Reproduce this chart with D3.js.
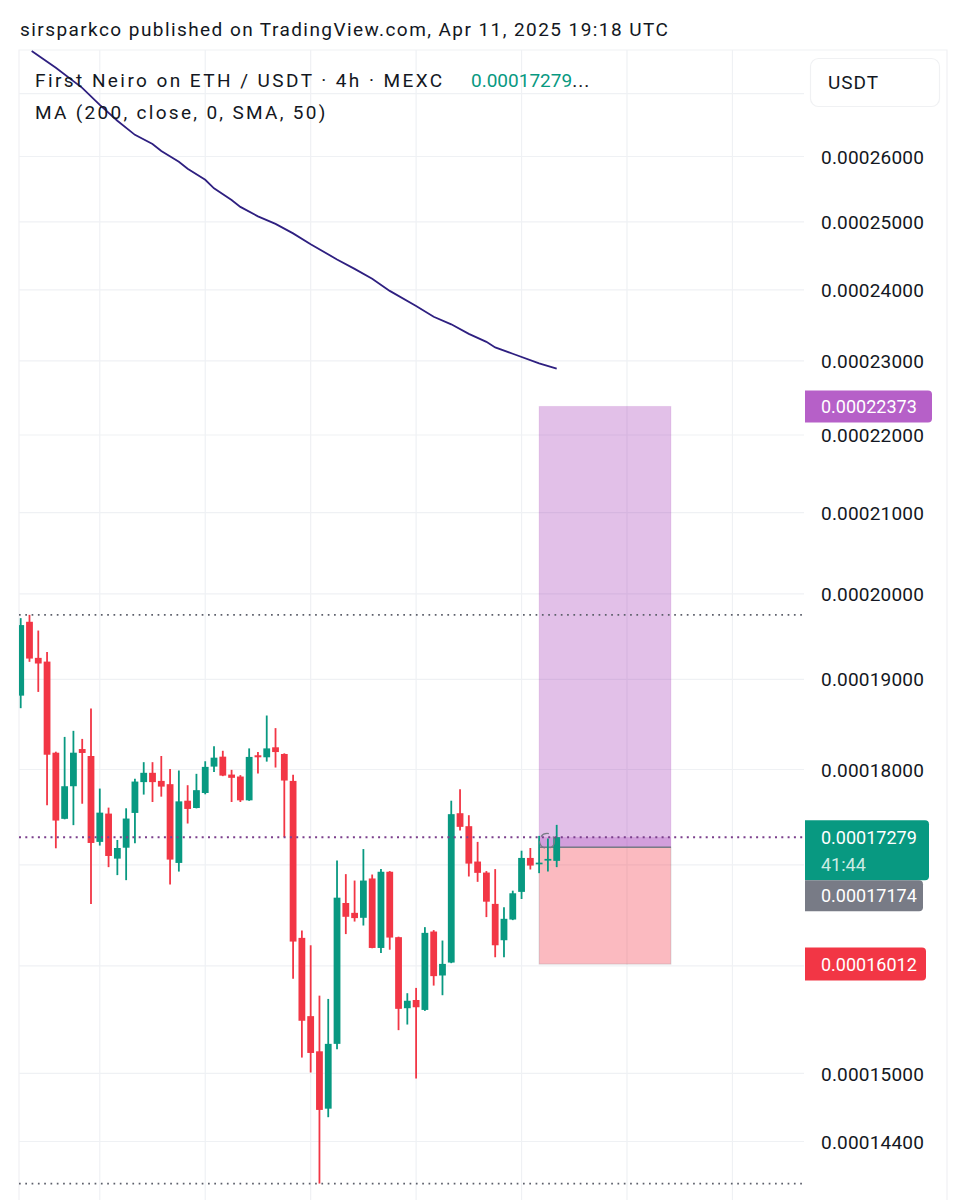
<!DOCTYPE html>
<html>
<head>
<meta charset="utf-8">
<script src="https://cdn.jsdelivr.net/npm/d3@7"></script>
<style>
  body { margin: 0; background: #fff; }
  text { font-family: Roboto, "Noto Sans", sans-serif; fill: #131722; }
</style>
</head>
<body>
<div id="chart"></div>
<script>
// Candles in bar order, prices in 1e-8 USDT
const opens = [18810,19662,19241,19198,18177,17470,17815,18217,18141,17230,17525,17058,17170,17532,17859,17959,17872,17837,17014,17661,17584,17743,18026,18134,17940,17919,17665,18149,18127,18236,18163,17872,16266,15520,15196,14682,15264,16610,16512,16463,16856,16168,16924,16273,15594,15671,15578,16328,15903,16027,17529,17393,17028,16916,16601,16243,16446,16721,17065,17001,17042,17035];
const highs = [19705,19744,19559,19309,18188,18350,18417,18328,18664,17790,17588,17250,17581,17894,18074,18074,18141,18000,17984,17826,17948,18084,18247,18198,17991,17934,18224,18184,18587,18447,18170,17937,16338,16194,15712,15681,17038,16900,16835,17156,16896,16951,16931,16278,15735,15785,16371,16342,16240,17661,17783,17508,17230,16931,16951,16568,16733,17139,17167,17292,17265,17407];
const lows = [18669,19195,18852,17613,17164,17465,17404,17629,16601,17192,16971,16890,16839,17216,17726,17647,17704,16794,16926,17421,17580,17729,17969,17923,17647,17647,17660,17951,18080,18016,17279,15871,15139,15004,14037,14607,15215,16303,16426,16387,16165,16119,16151,15390,15442,14950,15569,15807,15716,16021,17347,16876,16822,16470,16078,16078,16440,16650,16947,16910,16926,16971];
const closes = [19623,19233,19176,18155,17452,17815,18177,18174,17219,17535,17085,17167,17473,17865,17959,17859,17811,17048,17654,17574,17773,18023,18123,17929,17905,17665,18131,18127,18224,18184,17876,16230,15477,15181,14671,15264,16663,16473,16460,16835,16168,16924,16269,15588,15664,15603,16315,15897,16014,17519,17386,17007,16913,16623,16194,16453,16707,17065,16987,17017,17055,17279];

// Moving average line, bar index and price
const maBars = [1.25,4,7,9,11,13,15,16,18,19,21,22,24,25,27,29,31,33,36,38,40,42,45,47,49,51,53,54,56,59,61];
const maValues = [27691,27412,27085,26809,26555,26332,26189,26079,25909,25801,25631,25500,25323,25218,25076,24963,24821,24659,24436,24298,24153,23979,23764,23609,23503,23369,23257,23179,23092,22959,22888];

// Price scale labels and grid
const axisPrices = [26000,25000,24000,23000,22000,21000,20000,19000,18000,15000,14400];
const gridPrices = [27000,26000,25000,24000,23000,22000,21000,20000,19000,18000,17000,16000,15000,14400];
const gridBars = [9,21,33,45,57,69,81];

// Position tool and price lines
const targetPrice = 22373;
const lastPrice = 17279;
const entryPrice = 17174;
const stopPrice = 16012;
const positionBars = [59,74];
const highLowPrices = [19744,14037];

const fmt = p => (p / 1e8).toFixed(8);

const width = 962;
const height = 1200;
const up = "#089981";
const down = "#f23645";

const svg = d3.select("#chart")
  .append("svg")
  .attr("width", width)
  .attr("height", height)
  .style("display", "block");

// Scales: bar index to x, log price to y
const x = d3.scaleLinear().domain([0, 61]).range([20.7, 556.7]);
const y = d3.scaleLog().domain([26000, 14400]).range([156, 1141]);

const plotLeft = 19;
const plotRight = 804;
const plotTop = 50;

svg.append("clipPath").attr("id", "plot")
  .append("rect")
  .attr("x", plotLeft)
  .attr("y", plotTop)
  .attr("width", plotRight - plotLeft)
  .attr("height", height - plotTop);

// Outer frame
svg.append("path")
  .attr("d", `M${plotLeft},${height}V${plotTop}H947V${height}`)
  .attr("fill", "none")
  .attr("stroke", "#f0f1f3")
  .attr("stroke-width", 1.2);

// Grid lines
const hGrid = svg.append("g")
  .attr("transform", `translate(${plotRight},0)`)
  .call(d3.axisLeft(y).tickValues(gridPrices).tickSize(plotRight - plotLeft).tickFormat(""));
hGrid.select(".domain").remove();
hGrid.selectAll("line").attr("stroke", "#eff1f4").attr("stroke-width", 1.2);

svg.append("g").selectAll("line")
  .data(gridBars)
  .enter()
  .append("line")
  .attr("x1", d => x(d))
  .attr("x2", d => x(d))
  .attr("y1", plotTop)
  .attr("y2", height)
  .attr("stroke", "#eff1f4")
  .attr("stroke-width", 1.2);

// Price axis labels
const axis = svg.append("g")
  .attr("transform", "translate(821,1)")
  .call(d3.axisRight(y).tickValues(axisPrices).tickSize(0).tickPadding(0).tickFormat(fmt));
axis.select(".domain").remove();
axis.selectAll("text")
  .style("font-size", "19px")
  .style("letter-spacing", "0.2px")
  .style("font-family", "Roboto, sans-serif")
  .attr("fill", "#131722");

// Position tool
const box = svg.append("g");
const boxX = x(positionBars[0]);
const boxW = x(positionBars[1]) - x(positionBars[0]);
box.append("rect")
  .attr("x", boxX)
  .attr("y", y(targetPrice))
  .attr("width", boxW)
  .attr("height", y(entryPrice) - y(targetPrice))
  .attr("fill", "#9c27b0")
  .attr("fill-opacity", 0.29)
  .attr("stroke", "#9c27b0")
  .attr("stroke-opacity", 0.12);
box.append("rect")
  .attr("x", boxX)
  .attr("y", y(lastPrice))
  .attr("width", boxW)
  .attr("height", y(entryPrice) - y(lastPrice))
  .attr("fill", "#9c27b0")
  .attr("fill-opacity", 0.22);
box.append("rect")
  .attr("x", boxX)
  .attr("y", y(entryPrice))
  .attr("width", boxW)
  .attr("height", y(stopPrice) - y(entryPrice))
  .attr("fill", down)
  .attr("fill-opacity", 0.34)
  .attr("stroke", "#787b86")
  .attr("stroke-opacity", 0.25);
box.append("line")
  .attr("x1", boxX)
  .attr("x2", boxX + boxW)
  .attr("y1", y(entryPrice))
  .attr("y2", y(entryPrice))
  .attr("stroke", "#787b86")
  .attr("stroke-width", 1.6);

// High and low dotted lines
svg.append("g").selectAll("line")
  .data(highLowPrices)
  .enter()
  .append("line")
  .attr("x1", plotLeft)
  .attr("x2", plotRight)
  .attr("y1", d => y(d))
  .attr("y2", d => y(d))
  .attr("stroke", "#5d606b")
  .attr("stroke-width", 1.7)
  .attr("stroke-dasharray", "1.7,4.6");

// Candles
const candles = svg.append("g").attr("clip-path", "url(#plot)");
opens.forEach((open, i) => {
  const close = closes[i];
  const color = close >= open ? up : down;
  candles.append("line")
    .attr("x1", x(i))
    .attr("x2", x(i))
    .attr("y1", y(highs[i]))
    .attr("y2", y(lows[i]))
    .attr("stroke", color)
    .attr("stroke-width", 1.8);
  candles.append("rect")
    .attr("x", x(i) - 3.4)
    .attr("y", y(Math.max(open, close)))
    .attr("width", 6.8)
    .attr("height", Math.max(1.7, Math.abs(y(open) - y(close))))
    .attr("fill", color);
});

// Small arrow ring the position tool draws by the entry
svg.append("circle")
  .attr("cx", x(59.9))
  .attr("cy", y(17240))
  .attr("r", 7.5)
  .attr("fill", "none")
  .attr("stroke", "#787b86")
  .attr("stroke-width", 1.2)
  .attr("stroke-dasharray", "9,5");

// Last price dotted line
svg.append("line")
  .attr("x1", plotLeft)
  .attr("x2", plotRight)
  .attr("y1", y(lastPrice))
  .attr("y2", y(lastPrice))
  .attr("stroke", "#7b3f8c")
  .attr("stroke-width", 2)
  .attr("stroke-dasharray", "2,4.3");

// Moving average
const maLine = d3.line()
  .x((d, i) => x(maBars[i]))
  .y(d => y(d));
svg.append("path")
  .datum(maValues)
  .attr("d", maLine)
  .attr("fill", "none")
  .attr("stroke", "#2e1f80")
  .attr("stroke-width", 1.8);

// Header and legend text
svg.append("text")
  .attr("x", 20)
  .attr("y", 36)
  .style("font-size", "19px")
  .style("letter-spacing", "1.43px")
  .text("sirsparkco published on TradingView.com, Apr 11, 2025 19:18 UTC");

const legend = svg.append("text")
  .attr("x", 35)
  .attr("y", 87)
  .style("font-size", "19px")
  .style("letter-spacing", "2.43px");
legend.append("tspan").text("First Neiro on ETH / USDT · 4h · MEXC");
legend.append("tspan").attr("x", 471).style("fill", up).style("letter-spacing", "0px").text(fmt(lastPrice));
legend.append("tspan").style("letter-spacing", "1px").text("...");

svg.append("text")
  .attr("x", 35)
  .attr("y", 119)
  .style("font-size", "19px")
  .style("letter-spacing", "2.3px")
  .text("MA (200, close, 0, SMA, 50)");

// Unit button
svg.append("rect")
  .attr("x", 810.5)
  .attr("y", 58.5)
  .attr("width", 129)
  .attr("height", 48)
  .attr("rx", 8)
  .attr("fill", "#fff")
  .attr("stroke", "#f0f1f3")
  .attr("stroke-width", 1.2);
svg.append("text")
  .attr("x", 828)
  .attr("y", 89)
  .style("font-size", "19px")
  .style("letter-spacing", "1px")
  .text("USDT");

// Price badges, the entry label is pushed below the last price label
const badges = [
  { price: targetPrice, color: "#b660c8", w: 127, h: 32 },
  { price: lastPrice, color: up, w: 124, h: 60, timer: "41:44" },
  { price: entryPrice, color: "#787b86", w: 118, h: 31, pushedBelow: lastPrice },
  { price: stopPrice, color: down, w: 121, h: 33 }
];
badges.forEach(b => {
  let top = y(b.price) - b.h / 2;
  if (b.timer) top = y(b.price) - 17;
  if (b.pushedBelow) top = y(b.pushedBelow) - 17 + 60;
  const right = 805 + b.w;
  svg.append("path")
    .attr("d", `M805,${top}H${right - 4}a4,4 0 0 1 4,4V${top + b.h - 4}a4,4 0 0 1 -4,4H805Z`)
    .attr("fill", b.color);
  const mid = b.timer ? top + 17 : top + b.h / 2;
  svg.append("text")
    .attr("x", 821)
    .attr("y", mid + 6.5)
    .style("font-size", "18px")
    .style("fill", "#fff")
    .text(fmt(b.price));
  if (b.timer) {
    svg.append("text")
      .attr("x", 821)
      .attr("y", mid + 34)
      .style("font-size", "18px")
      .style("fill", "#cdebe4")
      .text(b.timer);
  }
});
</script>
</body>
</html>
